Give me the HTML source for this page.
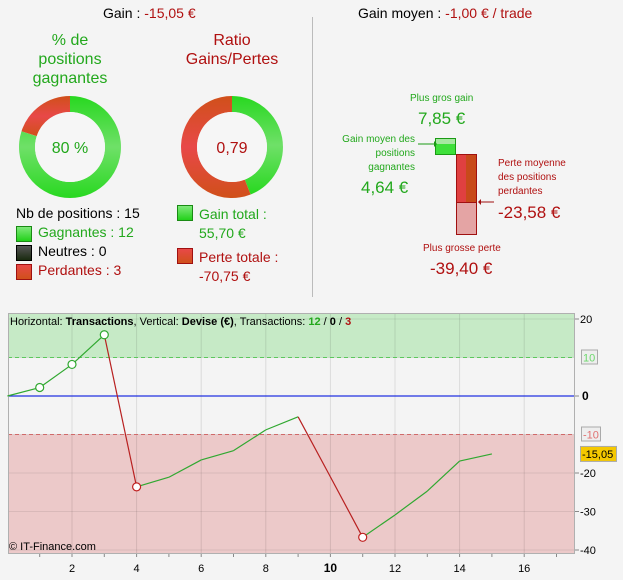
<!DOCTYPE html>
<html><head><meta charset="utf-8">
<style>
body{margin:0;width:623px;height:580px;background:#f4f4f4;font-family:"Liberation Sans",sans-serif;overflow:hidden;position:relative}
.a{position:absolute;white-space:nowrap}
.g{color:#22a81c}.r{color:#b01010}
.sw{position:absolute;width:14px;height:14px;border:1px solid #1a8a14;background:linear-gradient(#7fe97a,#22d11a)}
</style></head><body>
<div class="a" style="left:103px;top:5px;font-size:14px">Gain : <span class="r">-15,05 €</span></div>
<div class="a" style="left:358px;top:5px;font-size:14px">Gain moyen : <span class="r">-1,00 € / trade</span></div>
<div style="position:absolute;left:312px;top:17px;width:1px;height:280px;background:#bbb"></div>

<div class="a g" style="left:20px;top:31px;width:100px;text-align:center;font-size:16px;line-height:19px">% de<br>positions<br>gagnantes</div>
<div class="a r" style="left:172px;top:31px;width:120px;text-align:center;font-size:16px;line-height:19px">Ratio<br>Gains/Pertes</div>

<svg class="a" style="left:0;top:0" width="313" height="300">
<defs>
<linearGradient id="gg" x1="0" y1="0" x2="0" y2="1"><stop offset="0" stop-color="#28d820"/><stop offset=".5" stop-color="#6fe068"/><stop offset="1" stop-color="#28d820"/></linearGradient>
<linearGradient id="rr" x1="0" y1="0" x2="0" y2="1"><stop offset="0" stop-color="#d0501a"/><stop offset=".5" stop-color="#e84848"/><stop offset="1" stop-color="#d0501a"/></linearGradient>
</defs>
<g id="d1"></g><g id="d2"></g>
<circle cx="70" cy="147" r="35" fill="#f6f6f6"/>
<circle cx="232" cy="147" r="35" fill="#f6f6f6"/>
<text x="70" y="153" text-anchor="middle" font-size="16" fill="#22a81c" font-family="Liberation Sans">80 %</text>
<text x="232" y="153" text-anchor="middle" font-size="16" fill="#b01010" font-family="Liberation Sans">0,79</text>
</svg>

<div class="a" style="left:16px;top:205px;font-size:14px">Nb de positions : 15</div>
<div class="sw" style="left:16px;top:226px"></div>
<div class="a g" style="left:38px;top:224px;font-size:14px">Gagnantes : 12</div>
<div class="sw" style="left:16px;top:245px;border-color:#000;background:linear-gradient(#555,#1a2a10)"></div>
<div class="a" style="left:38px;top:243px;font-size:14px">Neutres : 0</div>
<div class="sw" style="left:16px;top:264px;border-color:#a01010;background:linear-gradient(#e84848,#d0501a)"></div>
<div class="a r" style="left:38px;top:262px;font-size:14px">Perdantes : 3</div>

<div class="sw" style="left:177px;top:205px"></div>
<div class="a g" style="left:199px;top:205px;font-size:14px;line-height:19px">Gain total :<br>55,70 €</div>
<div class="sw" style="left:177px;top:248px;border-color:#a01010;background:linear-gradient(#e84848,#d0501a)"></div>
<div class="a r" style="left:199px;top:248px;font-size:14px;line-height:19px">Perte totale :<br>-70,75 €</div>

<div class="a g" style="left:410px;top:93px;font-size:10px">Plus gros gain</div>
<div class="a g" style="left:418px;top:109px;font-size:17px">7,85 €</div>
<div class="a g" style="left:325px;top:133px;width:90px;text-align:right;font-size:10px;line-height:14px">Gain moyen des<br>positions<br>gagnantes</div>
<div class="a g" style="left:361px;top:178px;font-size:17px">4,64 €</div>
<div class="a r" style="left:498px;top:157px;font-size:10px;line-height:14px">Perte moyenne<br>des positions<br>perdantes</div>
<div class="a r" style="left:498px;top:203px;font-size:17px">-23,58 €</div>
<div class="a r" style="left:423px;top:243px;font-size:10px">Plus grosse perte</div>
<div class="a r" style="left:430px;top:259px;font-size:17px">-39,40 €</div>
<svg class="a" style="left:0;top:0" width="623" height="300">
<rect x="435.5" y="138.5" width="20" height="16" fill="#3ee03a" stroke="#1a9a14"/>
<rect x="436" y="139" width="19" height="5" fill="#a6e8a0"/>
<rect x="456.5" y="154.5" width="20" height="48" fill="#e04040" stroke="#a01010"/>
<rect x="466" y="155" width="10" height="47" fill="#c84a1a"/>
<rect x="456.5" y="202.5" width="20" height="32" fill="#e4a4a4" stroke="#a01010"/>
<line x1="418" y1="144" x2="434" y2="144" stroke="#1a9a14"/><path d="M434 141 L437 144 L434 147Z" fill="#1a9a14"/>
<line x1="481" y1="202" x2="494" y2="202" stroke="#a01010"/><path d="M481 199 L478 202 L481 205Z" fill="#a01010"/>
</svg>

<svg class="a" style="left:0;top:0" width="623" height="580" id="chart"></svg>

<script>
const xTicks=[2,4,6,8,10,12,14,16];
const yTicks=[20,0,-20,-30,-40];
const trades=[0,1,2,3,4,5,6,7,8,9,10,11,12,13,14,15];
const equity=[0,2.2,8.2,15.9,-23.6,-21.1,-16.6,-14.2,-8.8,-5.4,-21,-36.7,-30.9,-24.7,-16.9,-15.05];
const markedTrades=[1,2,3,4,11];
const winPct=[80,20];
const gainLoss=[55.70,70.75];

const NS="http://www.w3.org/2000/svg";
function mk(p,t,a){const e=document.createElementNS(NS,t);for(const k in a)e.setAttribute(k,a[k]);p.appendChild(e);return e;}
function arc(cx,cy,r0,r1,a0,a1){
 const p=(r,a)=>(cx+r*Math.sin(a)).toFixed(2)+" "+(cy-r*Math.cos(a)).toFixed(2);
 const lg=(a1-a0)>Math.PI?1:0;
 return "M"+p(r1,a0)+" A"+r1+" "+r1+" 0 "+lg+" 1 "+p(r1,a1)+" L"+p(r0,a1)+" A"+r0+" "+r0+" 0 "+lg+" 0 "+p(r0,a0)+"Z";}
function donut(id,cx,vals,cols,name){const g=document.getElementById(id);const tot=vals.reduce((a,b)=>a+b,0);let a=0;
 vals.forEach((v,i)=>{const s=v/tot*2*Math.PI;const p=mk(g,"path",{d:arc(cx,147,35,51,a,a+s-1e-4),fill:cols[i]});
 
 a+=s;});}
donut("d1",70,winPct,["url(#gg)","url(#rr)"],"win-donut");
donut("d2",232,gainLoss,["url(#gg)","url(#rr)"],"ratio-donut");

const svg=document.getElementById("chart");
const L=8,R=575,T=313,B=554;
const X=v=>7.4+v*32.3;
const Y=v=>396-v*3.85;
mk(svg,"rect",{x:L,y:T,width:R-L,height:B-T,fill:"#f4f4f4"});
mk(svg,"rect",{x:L,y:T,width:R-L,height:Y(10)-T,fill:"#c6eac6"});
mk(svg,"rect",{x:L,y:Y(-10),width:R-L,height:B-Y(-10),fill:"#ecc9c9"});
for(let v=2;v<=16;v+=2){mk(svg,"line",{x1:X(v),x2:X(v),y1:T,y2:B,stroke:"rgba(0,0,0,0.1)"});}
[20,10,-10,-20,-30,-40].forEach(v=>mk(svg,"line",{x1:L,x2:R,y1:Y(v),y2:Y(v),stroke:"rgba(0,0,0,0.08)"}));
mk(svg,"line",{x1:L,x2:R,y1:Y(10),y2:Y(10),stroke:"#5cc85c","stroke-dasharray":"4,3"});
mk(svg,"line",{x1:L,x2:R,y1:Y(-10),y2:Y(-10),stroke:"#d06a6a","stroke-dasharray":"4,3"});
mk(svg,"line",{x1:L,x2:R,y1:Y(0),y2:Y(0),stroke:"#2030e0","stroke-width":1.3});
mk(svg,"rect",{x:L+.5,y:T+.5,width:R-L-1,height:B-T-1,fill:"none",stroke:"#b0b0b0"});
for(let i=1;i<trades.length;i++){const up=equity[i]>=equity[i-1];
 const l=mk(svg,"line",{x1:X(trades[i-1]),y1:Y(equity[i-1]),x2:X(trades[i]),y2:Y(equity[i]),stroke:up?"#30a830":"#b82020","stroke-width":1.2});
 
 }
markedTrades.forEach(t=>{const i=trades.indexOf(t);const up=equity[i]>=equity[i-1];
 const c=mk(svg,"circle",{cx:X(t),cy:Y(equity[i]),r:4,fill:"#fff",stroke:up?"#30a830":"#c02020","stroke-width":1.2});
 
 });
for(let v=1;v<=17;v++){mk(svg,"line",{x1:X(v),x2:X(v),y1:B,y2:B+3,stroke:"#888"});}
xTicks.forEach(v=>{const t=mk(svg,"text",{x:X(v),y:572,"text-anchor":"middle","font-size":v==10?12:11,"font-weight":v==10?"bold":"normal","font-family":"Liberation Sans",fill:"#000"});t.textContent=v;
 
 });
yTicks.forEach(v=>{mk(svg,"line",{x1:R,x2:R+4,y1:Y(v),y2:Y(v),stroke:"#888"});
 const t=mk(svg,"text",{x:v==0?582:580,y:Y(v)+4,"font-size":v==0?12:11,"font-weight":v==0?"bold":"normal","font-family":"Liberation Sans",fill:"#000"});t.textContent=v;
 
 });
mk(svg,"rect",{x:581.5,y:Y(10)-7.5,width:16,height:14,fill:"#eee",stroke:"#aaa"});
let t=mk(svg,"text",{x:583,y:Y(10)+4,"font-size":11,"font-family":"Liberation Sans",fill:"#6cd86c"});t.textContent="10";
mk(svg,"rect",{x:581.5,y:Y(-10)-7.5,width:19,height:14,fill:"#eee",stroke:"#aaa"});
t=mk(svg,"text",{x:583,y:Y(-10)+4,"font-size":11,"font-family":"Liberation Sans",fill:"#e07070"});t.textContent="-10";
const last=equity[equity.length-1];
mk(svg,"rect",{x:580.5,y:Y(last)-7.5,width:36,height:15,fill:"#f5c800",stroke:"#aaa"});
t=mk(svg,"text",{x:582,y:Y(last)+4,"font-size":11,"font-family":"Liberation Sans",fill:"#000"});t.textContent=last.toFixed(2).replace(".",",");


</script>
<div class="a" style="left:10px;top:316px;font-size:11px">Horizontal: <b>Transactions</b>, Vertical: <b>Devise (€)</b>, Transactions: <b class="g">12</b> / <b>0</b> / <b class="r">3</b></div>
<div class="a" style="left:9px;top:541px;font-size:11px">© IT-Finance.com</div>
</body></html>
